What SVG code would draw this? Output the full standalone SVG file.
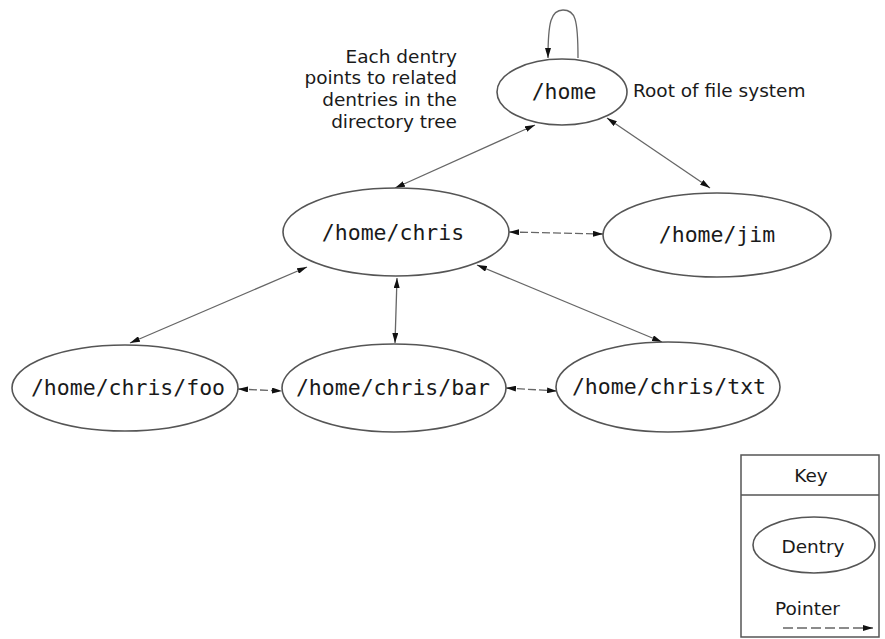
<svg xmlns="http://www.w3.org/2000/svg" width="885" height="639" viewBox="0 0 885 639">
<defs>
<marker id="ah" viewBox="0 0 10 6" refX="10" refY="3" markerWidth="10" markerHeight="6" markerUnits="userSpaceOnUse" orient="auto-start-reverse">
<path d="M0,0 L10,3 L0,6 Z" fill="#111"/>
</marker>
</defs>
<style>
.node ellipse{fill:#fff;stroke:#555;stroke-width:1.6}
.mono{font-family:"DejaVu Sans Mono","Liberation Mono",monospace;font-size:21.5px;fill:#1a1a1a;text-anchor:middle}
.sans{font-family:"DejaVu Sans","Liberation Sans",sans-serif;font-size:18.5px;fill:#1a1a1a}
.conn{fill:none;stroke:#666;stroke-width:1.3;marker-start:url(#ah);marker-end:url(#ah)}
.dash{stroke-dasharray:8,3}
</style>
<rect width="885" height="639" fill="#fff"/>
<g id="connectors">
<path d="M578,58 C578,18 575,10 563,10 C551,10 548,22 548,58" fill="none" stroke="#666" stroke-width="1.3" marker-end="url(#ah)"/>
<line class="conn" x1="535" y1="125" x2="395" y2="188"/>
<line class="conn" x1="607" y1="118" x2="710" y2="188"/>
<line class="conn dash" x1="509" y1="232" x2="603" y2="234"/>
<line class="conn" x1="307" y1="267" x2="130" y2="343"/>
<line class="conn" x1="397" y1="278" x2="395" y2="343"/>
<line class="conn" x1="477" y1="265" x2="662" y2="342"/>
<line class="conn dash" x1="238" y1="389" x2="282" y2="391"/>
<line class="conn dash" x1="506" y1="388" x2="557" y2="391"/>
</g>
<g id="home" class="node">
<ellipse cx="562" cy="92" rx="65" ry="33"/>
<text class="mono" x="564" y="99">/home</text>
</g>
<g id="chris" class="node">
<ellipse cx="396" cy="232" rx="113" ry="44"/>
<text class="mono" x="393" y="240">/home/chris</text>
</g>
<g id="jim" class="node">
<ellipse cx="717" cy="235" rx="114" ry="42"/>
<text class="mono" x="717" y="242">/home/jim</text>
</g>
<g id="foo" class="node">
<ellipse cx="125" cy="388" rx="113" ry="43"/>
<text class="mono" x="128" y="395">/home/chris/foo</text>
</g>
<g id="bar" class="node">
<ellipse cx="394" cy="388" rx="112" ry="44"/>
<text class="mono" x="393" y="395">/home/chris/bar</text>
</g>
<g id="txt" class="node">
<ellipse cx="668" cy="387" rx="112" ry="45"/>
<text class="mono" x="669" y="394">/home/chris/txt</text>
</g>
<g id="note">
<text class="sans" text-anchor="end" x="457" y="62.5">Each dentry</text>
<text class="sans" text-anchor="end" x="457" y="84.3">points to related</text>
<text class="sans" text-anchor="end" x="457" y="106.1">dentries in the</text>
<text class="sans" text-anchor="end" x="457" y="127.9">directory tree</text>
<text class="sans" x="633" y="97" font-size="19.5">Root of file system</text>
</g>
<g id="key">
<rect x="741" y="455" width="138" height="182" fill="#fff" stroke="#555" stroke-width="1.5"/>
<line x1="741" y1="495" x2="879" y2="495" stroke="#555" stroke-width="1.5"/>
<text class="sans" x="811" y="482" text-anchor="middle" font-size="20">Key</text>
<ellipse cx="814" cy="545" rx="61" ry="28" fill="#fff" stroke="#555" stroke-width="1.6"/>
<text class="sans" x="813" y="553" text-anchor="middle" font-size="21">Dentry</text>
<text class="sans" x="775" y="615" font-size="20.5">Pointer</text>
<line x1="783" y1="628" x2="873" y2="628" stroke="#666" stroke-width="1.3" stroke-dasharray="10,4" marker-end="url(#ah)"/>
</g>
</svg>
